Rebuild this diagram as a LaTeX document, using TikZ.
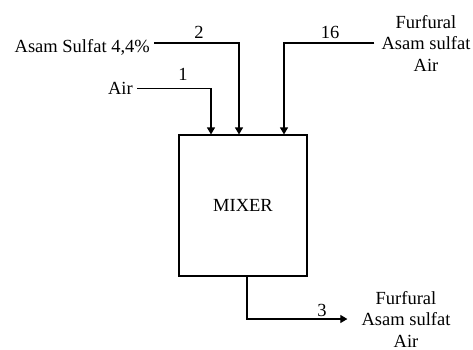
\documentclass[tikz,border=0pt]{standalone}
\usepackage{fontspec}
\setmainfont{Liberation Serif}
\usetikzlibrary{arrows.meta,positioning}
\newcommand{\fs}{\fontsize{18.5}{21.5}\selectfont}
\tikzset{
  unit/.style={draw,line width=1.1pt,minimum width=128pt,minimum height=141pt,inner sep=0pt,font=\fs},
  stream/.style={inner sep=0pt,font=\fs,align=center},
  num/.style={inner sep=0pt,font=\fs},
  flow/.style={-{Triangle[length=7pt,width=8pt]},line width=1.1pt}
}

\begin{document}
\begin{tikzpicture}[x=1pt,y=-1pt]
  \useasboundingbox (0,0) rectangle (473,349);
  \node[unit] (mix) at (243,205.5) {MIXER};
  % feeds
  \node[stream,anchor=east] (air) at (133,88.5) {Air};
  \node[stream,anchor=east] (acid) at (150,47) {Asam Sulfat 4,4\%};
  \node[stream] (recycle) at (426,43) {Furfural\\Asam sulfat\\Air};
  \node[stream] (prod) at (406,319) {Furfural\\Asam sulfat\\Air};
  \draw[flow] ([xshift=4pt]air.east) -| ([xshift=-32pt]mix.north);
  \draw[flow] ([xshift=4pt,yshift=4pt]acid.east) -| ([xshift=-4pt]mix.north);
  \draw[flow] ([xshift=-7pt]recycle.west) -| ([xshift=41pt]mix.north);
  \draw[flow] ([xshift=4pt]mix.south) |- ([xshift=-14pt]prod.west);
  % stream numbers
  \node[num] (n1) at (183,74) {1};
  \node[num] (n2) at (199,32) {2};
  \node[num] (n16) at (330,32) {16};
  \node[num] (n3) at (322,310) {3};
\end{tikzpicture}
\end{document}
